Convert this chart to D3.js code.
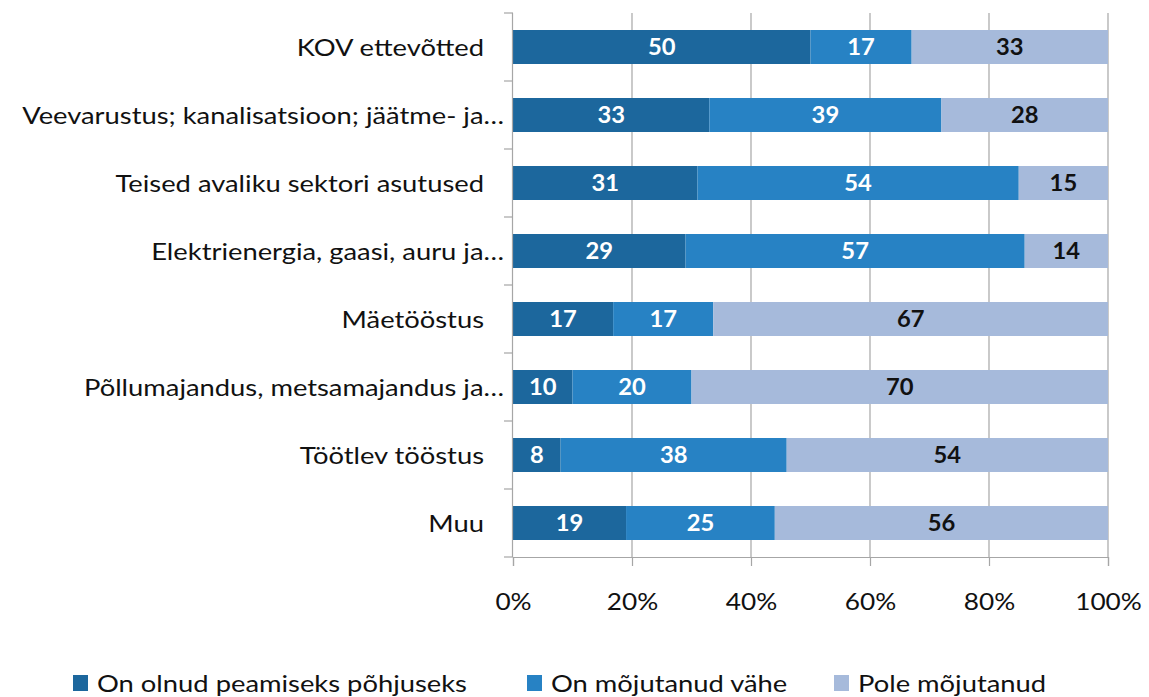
<!DOCTYPE html>
<html>
<head>
<meta charset="utf-8">
<script src="https://cdn.jsdelivr.net/npm/d3@7"></script>
<style>
  body { margin: 0; background: #fff; }
  text { font-family: Lato, "Open Sans", sans-serif; }
</style>
</head>
<body>
<script>
// andmed
const categories = [
  "KOV ettevõtted",
  "Veevarustus; kanalisatsioon; jäätme- ja…",
  "Teised avaliku sektori asutused",
  "Elektrienergia, gaasi, auru ja…",
  "Mäetööstus",
  "Põllumajandus, metsamajandus ja…",
  "Töötlev tööstus",
  "Muu"
];
const seriesNames = ["On olnud peamiseks põhjuseks", "On mõjutanud vähe", "Pole mõjutanud"];
const peamine = [50, 33, 31, 29, 17, 10, 8, 19];
const vahe = [17, 39, 54, 57, 17, 20, 38, 25];
const pole = [33, 28, 15, 14, 67, 70, 54, 56];
const xTicks = [0, 0.2, 0.4, 0.6, 0.8, 1];

const colors = ["#1c679d", "#2782c4", "#a6badb"];
const textColors = ["#fff", "#fff", "#111"];

const width = 1149, height = 697;
const margin = { top: 13, left: 513, right: 41, bottom: 140 };
const sx = 1.14; // teksti horisontaalne venitus

const svg = d3.select("body").append("svg")
  .attr("width", width)
  .attr("height", height);

// tabel stacki jaoks (normaliseeritud 100%)
const rows = categories.map((c, i) => {
  const vals = [peamine[i], vahe[i], pole[i]];
  const sum = d3.sum(vals);
  return { cat: c, vals: vals, s0: vals[0] / sum, s1: vals[1] / sum, s2: vals[2] / sum };
});
const stack = d3.stack().keys(["s0", "s1", "s2"]);
const layers = stack(rows);

const x = d3.scaleLinear().domain([0, 1]).range([margin.left, width - margin.right]);
const y = d3.scaleBand().domain(categories).range([margin.top, height - margin.bottom]).paddingInner(0.5).paddingOuter(0.25);

// ruudustik
svg.append("g").selectAll("line")
  .data(xTicks.slice(1))
  .enter().append("line")
  .attr("x1", d => x(d)).attr("x2", d => x(d))
  .attr("y1", margin.top).attr("y2", height - margin.bottom)
  .attr("stroke", "#a6a6a6").attr("stroke-width", 1.2);

// tulbad
const layerG = svg.append("g").selectAll("g")
  .data(layers)
  .enter().append("g")
  .attr("fill", (d, i) => colors[i]);

layerG.selectAll("rect")
  .data(d => d)
  .enter().append("rect")
  .attr("x", d => x(d[0]))
  .attr("width", d => x(d[1]) - x(d[0]))
  .attr("y", d => y(d.data.cat))
  .attr("height", y.bandwidth());

// väärtuste sildid
layers.forEach((layer, li) => {
  svg.append("g").selectAll("text")
    .data(layer)
    .enter().append("text")
    .attr("transform", d => `translate(${(x(d[0]) + x(d[1])) / 2},${y(d.data.cat) + y.bandwidth() / 2}) scale(1.08,1)`)
    .attr("dy", "0.36em")
    .attr("text-anchor", "middle")
    .attr("fill", textColors[li])
    .style("font-size", "22px")
    .style("font-weight", "bold")
    .text(d => d.data.vals[li]);
});

// y-telg
const step = y.step();
const yAxisG = svg.append("g");
yAxisG.append("line")
  .attr("x1", margin.left - 0.5).attr("x2", margin.left - 0.5)
  .attr("y1", margin.top).attr("y2", height - margin.bottom)
  .attr("stroke", "#a6a6a6").attr("stroke-width", 1.2);
const yB = d3.range(categories.length + 1).map(i => margin.top + i * step);
yAxisG.selectAll("line.tick")
  .data(yB)
  .enter().append("line")
  .attr("class", "tick")
  .attr("x1", margin.left - 9).attr("x2", margin.left)
  .attr("y1", d => d).attr("y2", d => d)
  .attr("stroke", "#a6a6a6").attr("stroke-width", 1.2);
yAxisG.selectAll("text")
  .data(categories)
  .enter().append("text")
  .attr("transform", d => `translate(${d.endsWith("…") ? margin.left - 9 : margin.left - 29},${y(d) + y.bandwidth() / 2}) scale(${sx},1)`)
  .attr("dy", "0.36em")
  .attr("text-anchor", "end")
  .attr("fill", "#111")
  .style("font-size", "24px")
  .text(d => d);

// x-telg
const xAxis = d3.axisBottom(x)
  .tickValues(xTicks)
  .tickFormat(d3.format(".0%"))
  .tickSize(9)
  .tickPadding(14);
const xAxisG = svg.append("g")
  .attr("transform", `translate(0,${height - margin.bottom})`)
  .call(xAxis);
xAxisG.select(".domain").attr("stroke", "#a6a6a6").attr("stroke-width", 1.2);
xAxisG.selectAll(".tick line").attr("stroke", "#a6a6a6").attr("stroke-width", 1.2);
xAxisG.selectAll(".tick text")
  .attr("y", null).attr("dy", null)
  .attr("transform", `translate(0,45) scale(${sx},1)`)
  .attr("dy", "0.36em")
  .attr("fill", "#111")
  .style("font-size", "23px")
  .style("font-family", "Lato, sans-serif");

// legend
const legendX = [73, 527, 834];
const legend = svg.append("g").selectAll("g")
  .data(seriesNames)
  .enter().append("g")
  .attr("transform", (d, i) => `translate(${legendX[i]},675)`);
legend.append("rect")
  .attr("width", 15).attr("height", 16)
  .attr("fill", (d, i) => colors[i]);
legend.append("text")
  .attr("transform", `translate(24,8) scale(${sx},1)`)
  .attr("dy", "0.36em")
  .attr("fill", "#111")
  .style("font-size", "24px")
  .text(d => d);
</script>
</body>
</html>
